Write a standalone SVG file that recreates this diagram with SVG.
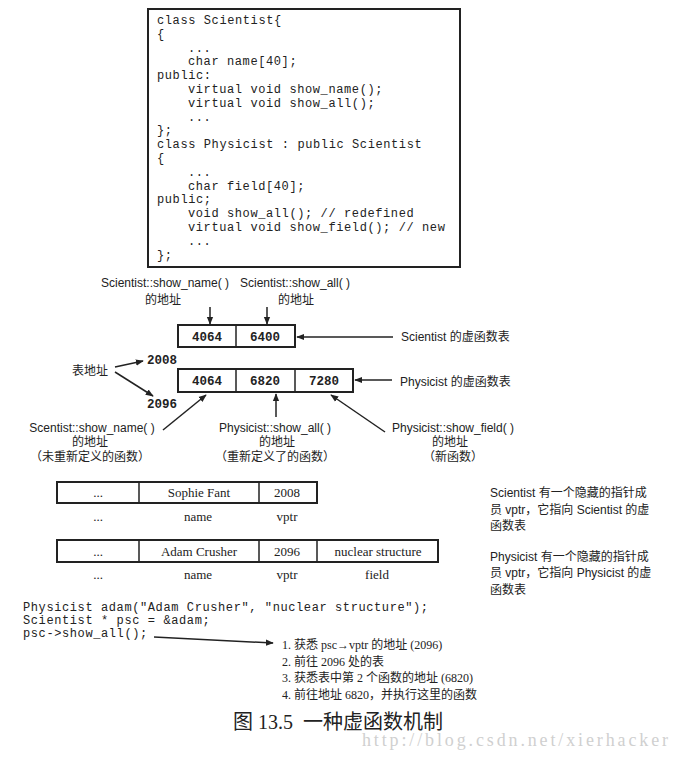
<svg xmlns="http://www.w3.org/2000/svg" width="683" height="757" viewBox="0 0 683 757">
<style>
.code{font-family:"Liberation Mono","DejaVu Sans Mono",monospace;font-size:12px;letter-spacing:0.6px;fill:#222;}
.num{font-family:"Liberation Mono","DejaVu Sans Mono",monospace;font-size:12.5px;font-weight:bold;fill:#222;text-anchor:middle;}
.lbl{font-family:"Liberation Sans","Noto Sans CJK SC",sans-serif;font-size:12px;fill:#222;}
.c{text-anchor:middle;}
.ser{font-family:"Liberation Serif","Noto Sans CJK SC",serif;font-size:13px;fill:#222;text-anchor:middle;}
.note{font-family:"Liberation Sans","Noto Sans CJK SC",sans-serif;font-size:12px;fill:#222;}
.step{font-family:"Liberation Serif","Noto Sans CJK SC",serif;font-size:12px;fill:#222;}
.box{fill:none;stroke:#222;stroke-width:2;}
.ln{stroke:#222;stroke-width:1.5;fill:none;}
</style>
<defs>
<marker id="ah" viewBox="0 0 10 10" refX="9" refY="5" markerWidth="8" markerHeight="8" markerUnits="userSpaceOnUse" orient="auto">
<path d="M0,1 L10,5 L0,9 Z" fill="#222"/>
</marker>
</defs>
<rect width="683" height="757" fill="#fff"/>

<g id="code-box">
<rect class="box" x="148" y="9" width="312" height="258"/>
<text class="code" x="157" y="24">class Scientist{</text>
<text class="code" x="157" y="38">{</text>
<text class="code" x="188" y="52">...</text>
<text class="code" x="188" y="65">char name[40];</text>
<text class="code" x="157" y="79">public:</text>
<text class="code" x="188" y="93">virtual void show_name();</text>
<text class="code" x="188" y="107">virtual void show_all();</text>
<text class="code" x="188" y="121">...</text>
<text class="code" x="157" y="134">};</text>
<text class="code" x="157" y="148">class Physicist : public Scientist</text>
<text class="code" x="157" y="162">{</text>
<text class="code" x="188" y="176">...</text>
<text class="code" x="188" y="190">char field[40];</text>
<text class="code" x="157" y="203">public;</text>
<text class="code" x="188" y="217">void show_all(); // redefined</text>
<text class="code" x="188" y="231">virtual void show_field(); // new</text>
<text class="code" x="188" y="245">...</text>
<text class="code" x="157" y="259">};</text>
</g>

<g id="scientist-vtable">
<rect class="box" x="178" y="325" width="117" height="22"/>
<line class="ln" x1="236" y1="325" x2="236" y2="347" stroke-width="2"/>
<text class="num" x="207" y="341">4064</text>
<text class="num" x="265" y="341">6400</text>
</g>

<g id="physicist-vtable">
<rect class="box" x="178" y="369" width="175" height="23"/>
<line class="ln" x1="236" y1="369" x2="236" y2="392" stroke-width="2"/>
<line class="ln" x1="295" y1="369" x2="295" y2="392" stroke-width="2"/>
<text class="num" x="207" y="385">4064</text>
<text class="num" x="265" y="385">6820</text>
<text class="num" x="324" y="385">7280</text>
</g>

<g id="labels-top">
<text class="lbl c" x="165" y="287">Scientist::show_name( )</text>
<text class="lbl c" x="163" y="304">的地址</text>
<text class="lbl c" x="295" y="287">Scientist::show_all( )</text>
<text class="lbl c" x="296" y="304">的地址</text>
<text class="lbl" x="401" y="341">Scientist 的虚函数表</text>
<text class="lbl" x="400" y="386">Physicist 的虚函数表</text>
<text class="lbl" x="72" y="375">表地址</text>
<text class="num" x="162" y="364">2008</text>
<text class="num" x="162" y="408">2096</text>
</g>

<g id="labels-bottom">
<text class="lbl c" x="92" y="432">Scentist::show_name( )</text>
<text class="lbl c" x="90" y="446">的地址</text>
<text class="lbl c" x="90" y="461">（未重新定义的函数）</text>
<text class="lbl c" x="275" y="432">Physicist::show_all( )</text>
<text class="lbl c" x="277" y="446">的地址</text>
<text class="lbl c" x="275" y="461">（重新定义了的函数）</text>
<text class="lbl c" x="453" y="432">Physicist::show_field( )</text>
<text class="lbl c" x="450" y="446">的地址</text>
<text class="lbl c" x="453" y="461">（新函数）</text>
</g>

<g id="sophie-object">
<rect class="box" x="57" y="482" width="260" height="21"/>
<line class="ln" x1="139" y1="482" x2="139" y2="503" stroke-width="2"/>
<line class="ln" x1="259" y1="482" x2="259" y2="503" stroke-width="2"/>
<text class="ser" x="98" y="497">...</text>
<text class="ser" x="199" y="497">Sophie Fant</text>
<text class="ser" x="287" y="497">2008</text>
<text class="ser" x="98" y="521">...</text>
<text class="ser" x="198" y="521">name</text>
<text class="ser" x="287" y="521">vptr</text>
</g>

<g id="adam-object">
<rect class="box" x="57" y="540" width="381" height="22"/>
<line class="ln" x1="139" y1="540" x2="139" y2="562" stroke-width="2"/>
<line class="ln" x1="259" y1="540" x2="259" y2="562" stroke-width="2"/>
<line class="ln" x1="317" y1="540" x2="317" y2="562" stroke-width="2"/>
<text class="ser" x="98" y="556">...</text>
<text class="ser" x="199" y="556">Adam Crusher</text>
<text class="ser" x="287" y="556">2096</text>
<text class="ser" x="378" y="556">nuclear structure</text>
<text class="ser" x="98" y="579">...</text>
<text class="ser" x="198" y="579">name</text>
<text class="ser" x="287" y="579">vptr</text>
<text class="ser" x="377" y="579">field</text>
</g>

<g id="notes">
<text class="note" x="490" y="497">Scientist 有一个隐藏的指针成</text>
<text class="note" x="490" y="514">员 vptr，它指向 Scientist 的虚</text>
<text class="note" x="490" y="530">函数表</text>
<text class="note" x="490" y="561">Physicist 有一个隐藏的指针成</text>
<text class="note" x="490" y="577">员 vptr，它指向 Physicist 的虚</text>
<text class="note" x="490" y="594">函数表</text>
</g>

<g id="usage-code">
<text class="code" x="23" y="611">Physicist adam("Adam Crusher", "nuclear structure");</text>
<text class="code" x="23" y="624">Scientist * psc = &amp;adam;</text>
<text class="code" x="23" y="637">psc-&gt;show_all();</text>
</g>

<g id="steps">
<text class="step" x="282" y="649">1. 获悉 psc→vptr 的地址 (2096)</text>
<text class="step" x="282" y="666">2. 前往 2096 处的表</text>
<text class="step" x="282" y="682">3. 获悉表中第 2 个函数的地址 (6820)</text>
<text class="step" x="282" y="699">4. 前往地址 6820，并执行这里的函数</text>
</g>

<g id="caption">
<text x="233" y="729" style="font-family:'Liberation Serif','Noto Sans CJK SC',serif;font-size:20px;fill:#222;">图 13.5</text>
<text x="303" y="729" style="font-family:'Noto Sans CJK SC',sans-serif;font-size:20px;fill:#222;">一种虚函数机制</text>
<text x="362" y="746" textLength="306" style="font-family:'Liberation Serif',serif;font-size:18px;fill:#d0d0d0;">http://blog.csdn.net/xierhacker</text>
</g>

<g id="connectors">
<line class="ln" x1="210" y1="307" x2="210" y2="324" marker-end="url(#ah)"/>
<line class="ln" x1="267" y1="307" x2="267" y2="324" marker-end="url(#ah)"/>
<line class="ln" x1="393" y1="337" x2="297" y2="337" marker-end="url(#ah)"/>
<line class="ln" x1="392" y1="380" x2="355" y2="380" marker-end="url(#ah)"/>
<line class="ln" x1="115" y1="367" x2="143" y2="361" marker-end="url(#ah)"/>
<line class="ln" x1="115" y1="372" x2="153" y2="396" marker-end="url(#ah)"/>
<line class="ln" x1="163" y1="430" x2="206" y2="395" marker-end="url(#ah)"/>
<line class="ln" x1="276" y1="417" x2="276" y2="394" marker-end="url(#ah)"/>
<line class="ln" x1="385" y1="432" x2="331" y2="395" marker-end="url(#ah)"/>
<line class="ln" x1="154" y1="637" x2="273" y2="643" marker-end="url(#ah)"/>
</g>
</svg>
